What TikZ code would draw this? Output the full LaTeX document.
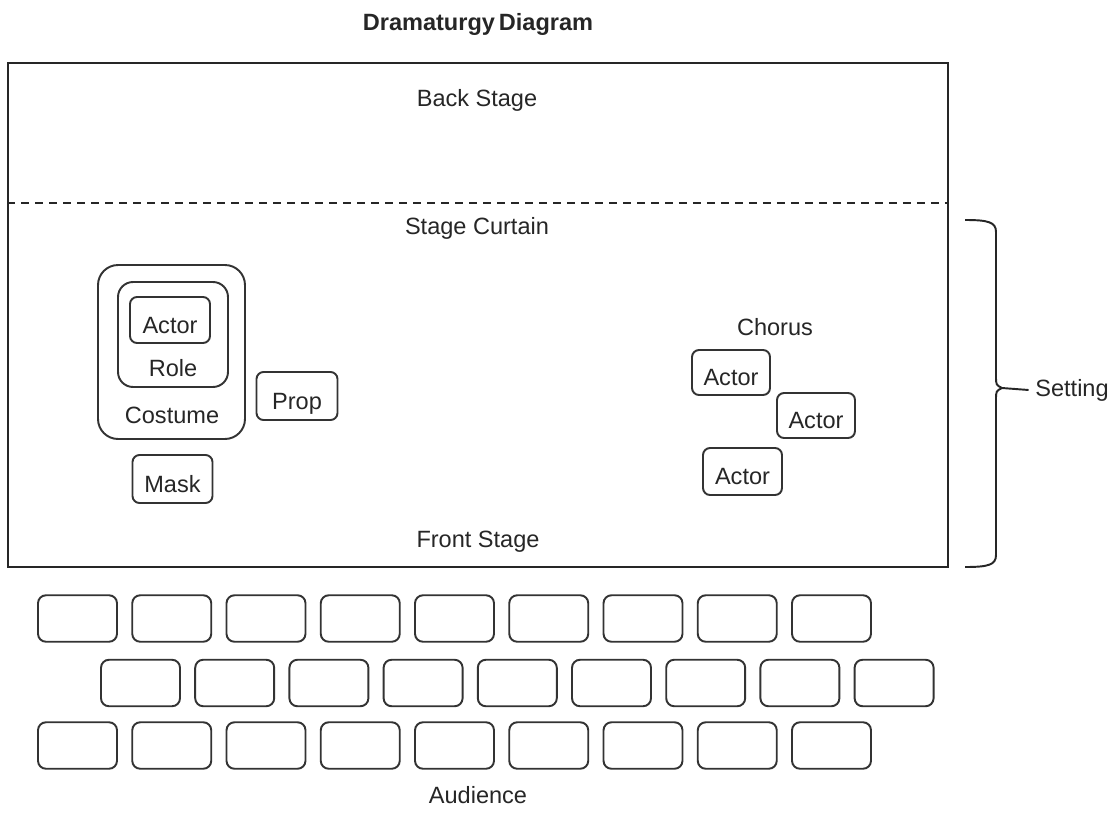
\documentclass[tikz,border=0pt]{standalone}
\usepackage{fontspec}
\setmainfont{Liberation Sans}
\usepackage[dvipsnames]{xcolor}

\begin{document}
\begin{tikzpicture}[x=0.02cm,y=-0.02cm,line width=1.1pt,
    every node/.style={font=\fontsize{13.4}{16}\selectfont,text=black!85},
    box node/.style={rectangle,draw=black!80,rounded corners=0.14cm,minimum width=1.58cm,minimum height=0.93cm,inner sep=0pt,text height=15pt,text depth=0pt},
    seat node/.style={box node,rounded corners=0.16cm}]
    \useasboundingbox (0,0) rectangle (1118,821);

    \node[font=\bfseries\fontsize{13.4}{16}\selectfont] (title) at (478,24) {Dramaturgy\,Diagram};

    % stage
    \node[rectangle,draw=black!85,minimum width=18.8cm,minimum height=10.08cm,inner sep=0pt] (stage) at (478,315) {};
    \draw[draw=black!85,dash pattern=on 0.16cm off 0.12cm] (stage.west |- 0,203) coordinate (c1) -- (stage.east |- 0,203) coordinate (c2);
    \node (back) at (477,100) {Back Stage};
    \node (curtain) at (477,228) {Stage Curtain};
    \node (front) at (478,542) {Front Stage};

    % performer
    \node[box node,rounded corners=0.4cm,minimum width=2.94cm,minimum height=3.48cm] (costume) at (171.5,352) {};
    \node[box node,rounded corners=0.3cm,minimum width=2.2cm,minimum height=2.1cm] (role) at (173,334.5) {};
    \node[box node,minimum width=1.6cm,minimum height=0.92cm] (actor) at (170,320) {Actor};
    \node (rolelabel) at (173,368) {Role};
    \node (costumelabel) at (172,415) {Costume};
    \node[box node,minimum width=1.62cm,minimum height=0.96cm] (prop) at (297,396) {Prop};
    \node[box node,minimum width=1.6cm,minimum height=0.96cm] (mask) at (172.5,479) {Mask};

    % chorus
    \node (chorus) at (775,327) {Chorus};
    \node[box node,minimum width=1.56cm,minimum height=0.9cm] (c1a) at (731,372.5) {Actor};
    \node[box node,minimum width=1.56cm,minimum height=0.9cm] (c2a) at (816,415.5) {Actor};
    \node[box node,minimum width=1.58cm,minimum height=0.94cm] (c3a) at (742.5,471.5) {Actor};

    % setting brace
    \coordinate (btop) at (965,220);
    \coordinate (bbot) at (965,567);
    \coordinate (btip) at (1002,388);
    \draw[draw=black!85] (btop) .. controls (988,220) and (996,222) .. (996,232) -- (996,376)
        .. controls (996,385) .. (btip) .. controls (996,391) .. (996,400) -- (996,555)
        .. controls (996,565) and (988,567) .. (bbot);
    \node (setting) at (1072,390) {Setting};
    \draw[draw=black!85] (btip) -- (setting.west);

    % audience
    \foreach \i in {0,...,8} {
        \node[seat node] (a\i) at (77.5+94.25*\i,618.5) {};
        \node[seat node] (b\i) at (140.5+94.2*\i,683) {};
        \node[seat node] (c\i) at (77.5+94.25*\i,745.5) {};
    }
    \node (audience) at (478,795) {Audience};
\end{tikzpicture}
\end{document}
